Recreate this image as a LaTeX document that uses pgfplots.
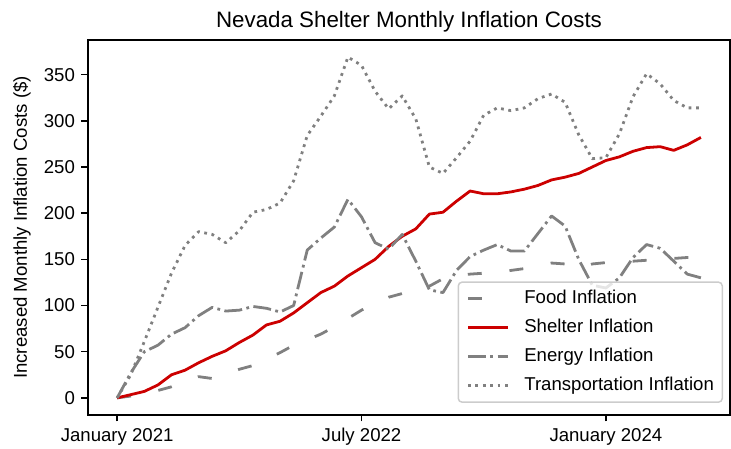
\documentclass[border=0pt]{standalone}
\usepackage{pgfplots}
\usepackage{pgfplotstable}
\pgfplotsset{compat=1.18}
\usepackage{fontspec}
\setmainfont{Liberation Sans}
\definecolor{mplred}{HTML}{CC0000}
\definecolor{mplgray}{HTML}{808080}
\definecolor{mplframe}{HTML}{CCCCCC}
\pgfplotstableread{
m food shelter energy transport
0 0 0 0 0
1 2 3.5 27 25
2 5 7 50 61
3 8 14 57 98
4 12 25 69 135
5 18 30 76 165
6 23 38 89 180
7 21 45 98 177
8 26 51 94 168
9 31 60 95 181
10 35 68 99 201
11 42 79 97 204
12 49 83 93 211
13 57 92 100 235
14 63 103 160 284
15 69 114 173 305
16 77 121 185 327
17 86 132 215 369
18 95 141 196 360
19 102 150 168 332
20 109 164 161 313
21 113 175 177 327
22 114 183 148 302
23 121 199 117 250
24 129 201 114 243
25 133 213 138 260
26 134 224 153 278
27 135 221 160 306
28 136 221 166 314
29 138 223 159 311
30 140 226 159 314
31 143 230 178 324
32 146 236 197 329
33 145 239 186 320
34 140 243 150 285
35 145 250 122 259
36 146.5 257 119 260
37 147 261 130 286
38 148 267 152 326
39 149 271 166 351
40 150 272 162 340
41 151 268 148 322
42 152 274 134 314
43 153 282 130 314
}\datatable
\begin{document}
\begin{tikzpicture}
\path[use as bounding box] (-47.3pt,-17.8pt) rectangle (345.7pt,223.1pt);
\begin{axis}[
  at={(0,0)}, anchor=south west,
  scale only axis,
  width=345.2pt, height=201.6pt,
  xmin=-2.15, xmax=45.15,
  ymin=-18.5, ymax=387.5,
  xtick={0,18,36},
  xticklabels={January 2021, July 2022, January 2024},
  ytick={0,50,100,150,200,250,300,350},
  tick align=outside,
  tick pos=left,
  major tick length=3.5pt,
  every tick/.style={black, line width=0.8pt},
  axis line style={black, line width=0.8pt},
  /pgf/number format/assume math mode=true,
  ticklabel style={font=\fontsize{10}{12}\selectfont},
  every axis title shift=0pt,
  title={Nevada Shelter Monthly Inflation Costs},
  title style={at={(axis description cs:0.5,1)}, anchor=base, yshift=6.45pt, font=\fontsize{12}{14}\selectfont},
  ylabel={Increased Monthly Inflation Costs (\$)},
  ylabel style={at={(axis description cs:-0.1028,0.5)}, anchor=center, font=\fontsize{10}{12}\selectfont},
  legend cell align=left,
  legend image code/.code={\draw[#1] (0pt,0pt) -- (21.5pt,0pt);},
  legend style={at={(axis description cs:1,0)}, anchor=south east, xshift=-3.8pt, yshift=6.5pt,
    draw=mplframe, line width=0.8pt, rounded corners=2pt, fill=white, fill opacity=0.8,
    draw opacity=1, text opacity=1, inner xsep=4.5pt, inner ysep=4.2pt,
    font=\fontsize{10}{12}\selectfont, row sep=6.3pt, /tikz/column sep=8pt,
    nodes={inner sep=0pt, text height=7.2pt, text depth=2.1pt}},
]
\addplot[mplgray, line width=1.5pt, line join=round, dash pattern=on 7.5pt off 15pt] table[x=m, y=food] {\datatable};
\addlegendentry{Food Inflation}
\addplot[mplred, line width=1.5pt, line join=round] table[x=m, y=shelter] {\datatable};
\addlegendentry{Shelter Inflation}
\addplot[mplgray, line width=1.5pt, line join=round, dash pattern=on 9.6pt off 2.4pt on 1.5pt off 2.4pt] table[x=m, y=energy] {\datatable};
\addlegendentry{Energy Inflation}
\addplot[mplgray, line width=1.5pt, line join=round, dash pattern=on 1.5pt off 2.475pt] table[x=m, y=transport] {\datatable};
\addlegendentry{Transportation Inflation}
\end{axis}
\end{tikzpicture}
\end{document}
